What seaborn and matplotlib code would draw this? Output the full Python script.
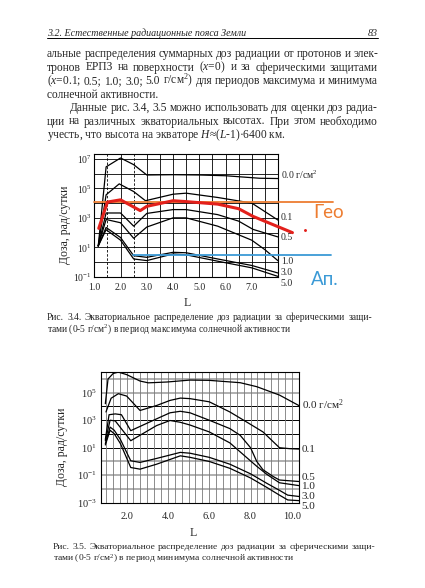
import numpy as np
import pandas as pd
import matplotlib
matplotlib.use("Agg")
import matplotlib.pyplot as plt
from matplotlib.lines import Line2D
from matplotlib.ticker import NullLocator
import seaborn as sns

# ---------------- data (L, lg of dose in rad/day) ----------------
shields = ["0.0", "0.1", "0.5", "1.0", "3.0", "5.0"]

# Fig. 3.4 - solar maximum
max_L_00 = [1.15, 1.45, 2.0, 2.5, 3.0, 4.0, 5.0, 6.0, 7.3, 8.0]
max_lg_00 = [1.1, 6.45, 7.05, 6.6, 5.9, 5.92, 5.9, 5.85, 5.68, 5.66]
max_L_01 = [1.15, 1.45, 1.95, 2.5, 2.95, 4.0, 4.5, 5.7, 7.0, 8.0]
max_lg_01 = [1.1, 4.56, 5.3, 4.78, 4.16, 4.6, 4.67, 4.38, 4.0, 2.85]
max_L_05 = [1.15, 1.45, 2.0, 2.5, 3.0, 4.0, 4.5, 5.7, 6.5, 7.05, 8.0]
max_lg_05 = [1.1, 3.33, 3.33, 2.44, 3.3, 3.56, 3.56, 3.22, 2.78, 2.22, 1.71]
max_L_10 = [1.15, 1.45, 2.0, 2.5, 3.0, 4.0, 4.5, 5.7, 7.0, 7.5, 8.0]
max_lg_10 = [1.1, 2.89, 2.67, 1.62, 2.38, 3.0, 3.0, 2.44, 1.49, 0.85, 0.1]
max_L_30 = [1.15, 1.45, 2.0, 2.5, 3.0, 4.0, 4.5, 5.7, 7.0, 8.0]
max_lg_30 = [1.1, 2.35, 1.67, 0.44, 0.33, 0.67, 0.64, 0.22, -0.22, -0.73]
max_L_50 = [1.15, 1.45, 2.0, 2.5, 3.0, 4.0, 4.5, 5.7, 7.0, 8.0]
max_lg_50 = [1.1, 2.2, 1.49, 0.22, 0.11, 0.56, 0.5, 0.07, -0.38, -0.96]

# hand-drawn overlay on fig. 3.4
red_L = [1.17, 1.5, 2.0, 2.75, 3.0, 4.0, 4.5, 5.7, 6.5, 7.05, 8.55]
red_lg = [2.29, 4.07, 4.22, 3.49, 3.78, 4.16, 4.1, 3.93, 3.62, 3.1, 2.0]
red_dot_L = [9.04]
red_dot_lg = [2.18]
geo_lg = 4.07
geo_span = [1.0, 10.1]
apo_lg = 0.51
apo_span = [2.46, 10.03]

# Fig. 3.5 - solar minimum
min_L_00 = [0.97, 1.1, 1.35, 1.6, 2.0, 2.65, 3.05, 3.95, 5.07, 6.0, 7.5, 8.3, 9.4, 10.36]
min_lg_00 = [4.2, 6.0, 6.4, 6.5, 6.32, 5.85, 5.72, 5.78, 5.92, 5.9, 5.73, 5.44, 4.83, 4.05]
min_L_01 = [1.0, 1.25, 1.6, 2.0, 2.65, 3.45, 4.1, 4.6, 5.07, 6.0, 7.0, 7.8, 8.6, 9.4, 9.9, 10.36]
min_lg_01 = [3.6, 4.6, 4.93, 4.76, 3.71, 4.07, 4.44, 4.61, 4.57, 4.34, 3.6, 2.88, 2.15, 1.0, 0.93, 0.9]
min_L_05 = [0.97, 1.15, 1.45, 1.75, 2.2, 3.45, 4.1, 4.6, 5.07, 6.0, 7.0, 7.5, 8.0, 8.3, 8.6, 9.1, 9.4, 10.36]
min_lg_05 = [1.6, 3.4, 3.46, 3.4, 2.24, 3.1, 3.54, 3.65, 3.54, 3.0, 2.39, 1.9, 1.0, 0.0, -0.6, -1.1, -1.35, -1.46]
min_L_10 = [0.97, 1.2, 1.45, 2.2, 3.45, 4.1, 4.6, 5.07, 6.0, 7.0, 7.8, 8.3, 8.8, 9.4, 10.36]
min_lg_10 = [1.5, 3.0, 2.95, 1.51, 2.61, 2.98, 2.85, 2.65, 2.15, 1.35, 0.3, -0.35, -0.95, -1.55, -1.76]
min_L_30 = [0.97, 1.2, 1.4, 1.7, 2.2, 2.65, 3.45, 4.6, 5.07, 6.0, 7.0, 8.0, 8.8, 9.4, 9.8, 10.36]
min_lg_30 = [1.3, 2.5, 2.27, 1.6, 0.05, -0.07, 0.22, 0.66, 0.6, 0.3, -0.2, -0.9, -1.6, -2.1, -2.45, -2.55]
min_L_50 = [0.97, 1.2, 1.4, 1.7, 2.2, 2.65, 3.45, 4.6, 5.07, 6.0, 7.0, 8.0, 8.8, 9.4, 9.8, 10.36]
min_lg_50 = [1.2, 2.27, 2.02, 1.3, -0.44, -0.56, -0.2, 0.41, 0.3, 0.0, -0.5, -1.2, -1.9, -2.45, -2.8, -2.85]

# tick labels
max_xticks = [1.0, 2.0, 3.0, 4.0, 5.0, 6.0, 7.0]
max_yexp = [-1, 1, 3, 5, 7]
min_xticks = [2.0, 4.0, 6.0, 8.0, 10.0]
min_yexp = [-3, -1, 1, 3, 5]

# page text
header = "3.2. Естественные радиационные пояса Земли"
page_no = "83"
body = [
    "альные распределения суммарных доз радиации от протонов и элек-",
    r"тронов ЕРПЗ на поверхности ($x$=0) и за сферическими защитами",
    r"($x$=0.1; 0.5; 1.0; 3.0; 5.0 г/см$^2$) для периодов максимума и минимума",
    "солнечной активности.",
    "Данные рис. 3.4, 3.5 можно использовать для оценки доз радиа-",
    "ции на различных экваториальных высотах.  При этом необходимо",
    r"учесть, что высота на экваторе $H$≈($L$-1)·6400 км.",
]
cap34 = ["Рис. 3.4.  Экваториальное распределение доз радиации за сферическими защи-",
         r"тами (0-5 г/см$^2$) в период максимума солнечной активности"]
cap35 = ["Рис. 3.5.  Экваториальное распределение доз радиации за сферическими защи-",
         r"тами (0-5 г/см$^2$) в период минимума солнечной активности"]
ylab = "Доза, рад/сутки"


def frame(Ls, lgs):
    parts = []
    for name, L, lg in zip(shields, Ls, lgs):
        parts.append(pd.DataFrame({"L": L, "dose": np.power(10.0, lg), "shield": name}))
    return pd.concat(parts, ignore_index=True)


df_max = frame([max_L_00, max_L_01, max_L_05, max_L_10, max_L_30, max_L_50],
               [max_lg_00, max_lg_01, max_lg_05, max_lg_10, max_lg_30, max_lg_50])
df_min = frame([min_L_00, min_L_01, min_L_05, min_L_10, min_L_30, min_L_50],
               [min_lg_00, min_lg_01, min_lg_05, min_lg_10, min_lg_30, min_lg_50])

# ---------------- style ----------------
sns.set_style("white")
plt.rcParams["font.family"] = ["Liberation Serif", "DejaVu Serif"]
plt.rcParams["mathtext.fontset"] = "custom"
plt.rcParams["mathtext.rm"] = "Liberation Serif"
plt.rcParams["mathtext.it"] = "Liberation Serif:italic"

W, H = 425, 588
fig = plt.figure(figsize=(W / 100, H / 100), dpi=100)
fig.patch.set_facecolor("white")


def box(x0, y0, x1, y1):
    return [x0 / W, 1 - y1 / H, (x1 - x0) / W, (y1 - y0) / H]


def fxy(x, y):
    return x / W, 1 - y / H


black = {s: "black" for s in shields}

# ---------------- Fig. 3.4 ----------------
ax1 = fig.add_axes(box(94.3, 154.3, 278, 277))
ax1.set_yscale("log")
ax1.set_xlim(1.0, 8.0)
ax1.set_ylim(1e-1, 10 ** 7.3)
for k in range(-1, 8):
    ax1.axhline(10.0 ** k, color="black", lw=0.6, zorder=1)
for v in np.arange(1.5, 8.0, 0.5):
    ax1.axvline(v, color="black", lw=0.6, zorder=1,
                ls=(0, (3, 2)) if v in (1.5, 2.5) else "-")
sns.lineplot(data=df_max, x="L", y="dose", hue="shield", palette=black,
             estimator=None, sort=False, legend=False, lw=0.9, ax=ax1, zorder=3)
sns.lineplot(x=red_L, y=np.power(10.0, red_lg), color="#E3201B", lw=2.2,
             estimator=None, sort=False, ax=ax1, zorder=5, clip_on=False)
ax1.plot(red_dot_L, np.power(10.0, red_dot_lg), "o", color="#E3201B", ms=1.1, clip_on=False)
ax1.plot(geo_span, [10 ** geo_lg] * 2, color="#ED7D31", lw=1.3, clip_on=False, zorder=4)
ax1.plot(apo_span, [10 ** apo_lg] * 2, color="#3B9AD6", lw=1.3, clip_on=False, zorder=4)
ax1.text(9.35, 10 ** 3.33, "Гео", color="#ED7D31", fontsize=13.5, family="Lato",
         ha="left", va="center")
ax1.text(9.24, 10 ** -1.2, "Ап.", color="#3B9AD6", fontsize=13.5, family="Lato",
         ha="left", va="center", clip_on=False)

ax1.set_xticks(max_xticks, [f"{v:.1f}" for v in max_xticks])
ax1.set_yticks([10.0 ** e for e in max_yexp], [f"$10^{{{e}}}$" for e in max_yexp])
ax1.xaxis.set_minor_locator(NullLocator())
ax1.yaxis.set_minor_locator(NullLocator())
ax1.tick_params(axis="y", length=0, labelsize=7, pad=2)
ax1.tick_params(axis="x", length=0, labelsize=7, pad=4)
ax1.set_xlabel("")
ax1.set_ylabel("")
for sp in ax1.spines.values():
    sp.set_color("black")
    sp.set_linewidth(0.8)
lab_max_y = [5.9, 3.01, 1.68, 0.04, -0.71, -1.43]
for name, y in zip(shields, lab_max_y):
    txt = name + (" г/см$^2$" if name == "0.0" else "")
    ax1.text(1.015, 10 ** y, txt, transform=ax1.get_yaxis_transform(),
             fontsize=7, ha="left", va="center", clip_on=False)

# ---------------- Fig. 3.5 ----------------
ax2 = fig.add_axes(box(101, 371.7, 299.3, 502.7))
ax2.set_yscale("log")
ax2.set_xlim(0.76, 10.36)
ax2.set_ylim(1e-3, 10 ** 6.53)
for k in range(-2, 7):
    dark = 1 <= k <= 4
    ax2.axhline(10.0 ** k, color="black" if dark else "#9a9a9a",
                lw=0.7 if dark else 1.1, zorder=1)
for v in 2 + np.arange(-3, 26) / 3:
    if 0.8 < v < 10.34:
        ax2.axvline(v, color="#7a7a7a", lw=0.6, zorder=1)
sns.lineplot(data=df_min, x="L", y="dose", hue="shield", palette=black,
             estimator=None, sort=False, legend=False, lw=0.9, ax=ax2, zorder=3)
ax2.set_xticks(min_xticks, [f"{v:.1f}" for v in min_xticks])
ax2.set_yticks([10.0 ** e for e in min_yexp], [f"$10^{{{e}}}$" for e in min_yexp])
ax2.xaxis.set_minor_locator(NullLocator())
ax2.yaxis.set_minor_locator(NullLocator())
ax2.tick_params(axis="y", length=0, labelsize=7.5, pad=3)
ax2.tick_params(axis="x", length=0, labelsize=7.5, pad=7)
ax2.set_xlabel("")
ax2.set_ylabel("")
for sp in ax2.spines.values():
    sp.set_color("black")
    sp.set_linewidth(0.8)
lab_min_y = [4.1, 0.9, -1.15, -1.84, -2.56, -3.29]
for name, y in zip(shields, lab_min_y):
    txt = name + (" г/см$^2$" if name == "0.0" else "")
    ax2.text(1.012, 10 ** y, txt, transform=ax2.get_yaxis_transform(),
             fontsize=8, ha="left", va="center", clip_on=False)

# axis titles
fig.text(*fxy(65, 225), ylab, rotation=90, ha="center", va="center", fontsize=8.5)
fig.text(*fxy(62, 447), ylab, rotation=90, ha="center", va="center", fontsize=8.5)
fig.text(*fxy(187, 303), "L", ha="center", va="center", fontsize=8.5)
fig.text(*fxy(193, 533), "L", ha="center", va="center", fontsize=8.5)

# ---------------- page text ----------------
renderer = fig.canvas.get_renderer()


def justify(line, y, x0, x1, size, min_gap=2.5):
    words = [w for w in line.split(" ") if w]
    texts = [fig.text(*fxy(x0, y), w, fontsize=size, ha="left", va="baseline") for w in words]
    widths = [t.get_window_extent(renderer).width for t in texts]
    room = x1 - x0 - min_gap * (len(words) - 1)
    if sum(widths) > room:
        # shrink the line a little so that words never touch
        scale = room / sum(widths) * 0.99
        for t in texts:
            t.set_fontsize(size * scale)
        widths = [t.get_window_extent(renderer).width for t in texts]
    gap = (x1 - x0 - sum(widths)) / max(len(words) - 1, 1)
    x = x0
    for t, w in zip(texts, widths):
        t.set_x(x / W)
        x += w + gap
    return texts[0].get_fontsize()


fig.text(*fxy(47, 36), header, style="italic", fontsize=7.2, ha="left", va="baseline")
fig.text(*fxy(378, 36), page_no, style="italic", fontsize=7.2, ha="right", va="baseline")
fig.add_artist(Line2D([47 / W, 378 / W], [1 - 38 / H] * 2, color="black", lw=0.7))

body_base = [57, 70.5, 84, 97.5, 111, 124.5, 138]
body_x0 = [47, 47, 47, 47, 70, 47, 47]
body_just = [True, True, True, False, True, True, False]
for line, y, x0, j in zip(body, body_base, body_x0, body_just):
    if j:
        justify(line, y, x0, 378, 8.3)
    else:
        fig.text(*fxy(x0, y), line, fontsize=8.3, ha="left", va="baseline")

cs = justify(cap34[0], 320, 47, 372, 7.0)
fig.text(*fxy(47, 332), cap34[1], fontsize=cs, ha="left", va="baseline")
cs = justify(cap35[0], 549, 53, 375, 7.0)
fig.text(*fxy(53, 561), cap35[1], fontsize=cs, ha="left", va="baseline")

fig.savefig("out.png", dpi=100, facecolor="white")
